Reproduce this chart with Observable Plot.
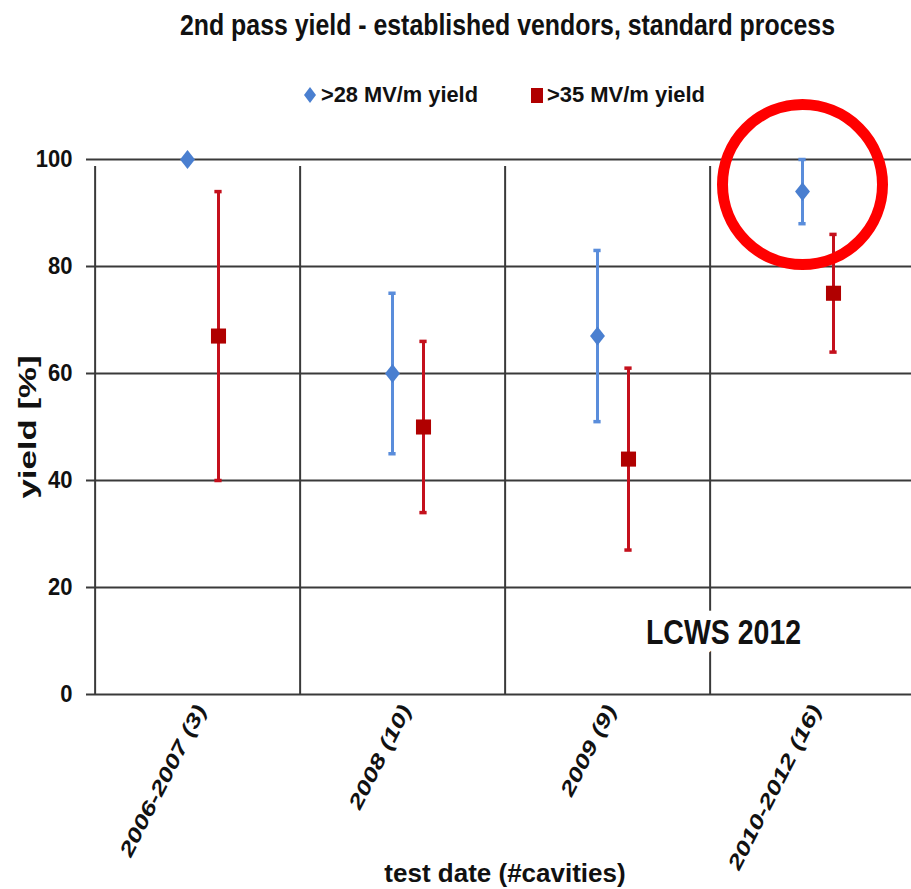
<!DOCTYPE html>
<html>
<head>
<meta charset="utf-8">
<script src="https://cdn.jsdelivr.net/npm/d3@7"></script>
<script src="https://cdn.jsdelivr.net/npm/@observablehq/plot@0.6"></script>
<style>
  html, body { margin: 0; padding: 0; background: #fff; }
  #wrap { position: relative; width: 911px; height: 889px; overflow: hidden; background: #fff;
          font-family: 'Liberation Sans', Arial, sans-serif; color: #111; }
  .fit { position: absolute; white-space: nowrap; font-weight: bold; transform-origin: 0 0; }
  #title { font-size: 29px; top: 9px; }
  .lgtext { font-size: 22px; top: 82px; }
  .lgsym { position: absolute; }
  #chart { position: absolute; left: 0; top: 120px; }
</style>
</head>
<body>
<div id="wrap">
  <div id="title" class="fit">2nd pass yield - established vendors, standard process</div>
  <div id="chart"></div>
</div>
<script>
// ---- data ----
const categories = ["2006-2007 (3)", "2008 (10)", "2009 (9)", "2010-2012 (16)"];
const yield28    = [100, 60, 67, 94];
const yield28Lo  = [100, 45, 51, 88];
const yield28Hi  = [100, 75, 83, 100];
const yield35    = [67, 50, 44, 75];
const yield35Lo  = [40, 34, 27, 64];
const yield35Hi  = [94, 66, 61, 86];
const yTicks     = [0, 20, 40, 60, 80, 100];
const seriesNames = [">28 MV/m yield", ">35 MV/m yield"];
const highlightIndex = 3; // circled point: >28 MV/m, 2010-2012

// ---- styles ----
const FONT = "'Liberation Sans', Arial, sans-serif";
const BLUE = "#4a7fd0", BLUE_LINE = "#5a8ddb";
const RED = "#b00000", RED_LINE = "#c4101c";
const GRID = "#3a3a3a";

const W = 911, H = 769, ML = 93, MR = -5, MT = 39, MB = 195;
const bw = (W - ML - MR) / categories.length;
const off28 = -10.5, off35 = 20.5, capW = 8;

const wideDiamond = {
  draw(ctx, size) {
    const k = 0.79, h = Math.sqrt(size / (2 * k)), w = k * h;
    ctx.moveTo(0, -h); ctx.lineTo(w, 0); ctx.lineTo(0, h); ctx.lineTo(-w, 0); ctx.closePath();
  }
};

const d28 = categories.map((c, i) => ({cat: c, v: yield28[i], lo: yield28Lo[i], hi: yield28Hi[i]}));
const d35 = categories.map((c, i) => ({cat: c, v: yield35[i], lo: yield35Lo[i], hi: yield35Hi[i]}));

const capOpts = (dx, color) => ({dx, stroke: color, strokeWidth: 3.5, insetLeft: bw/2 - capW/2, insetRight: bw/2 - capW/2});

const chart = Plot.plot({
  width: W, height: H,
  marginLeft: ML, marginRight: MR, marginTop: MT, marginBottom: MB,
  x: {domain: categories, padding: 0, axis: null},
  y: {domain: [0, 100], axis: null},
  style: {fontFamily: FONT, background: "transparent", overflow: "visible", color: "#111"},
  marks: [
    Plot.ruleY(yTicks, {y: d => d, stroke: GRID, strokeWidth: 2, insetLeft: -7}),
    Plot.ruleX(categories, {x: d => d, dx: -bw/2, y1: 0, y2: 100, stroke: GRID, strokeWidth: 2, insetBottom: -7}),
    Plot.axisY({ticks: yTicks, tickSize: 0, tickPadding: 21, fontSize: 22, fontWeight: "bold"}),
    Plot.axisX({tickSize: 0, tickPadding: 12, tickRotate: -63, dx: 3, fontSize: 20, fontWeight: "bold", fontStyle: "italic", label: null}),
    // error bars
    Plot.ruleX(d28, {x: "cat", y1: "lo", y2: "hi", dx: off28, stroke: BLUE_LINE, strokeWidth: 3}),
    Plot.tickY(d28, {x: "cat", y: "lo", ...capOpts(off28, BLUE_LINE)}),
    Plot.tickY(d28, {x: "cat", y: "hi", ...capOpts(off28, BLUE_LINE)}),
    Plot.ruleX(d35, {x: "cat", y1: "lo", y2: "hi", dx: off35, stroke: RED_LINE, strokeWidth: 3}),
    Plot.tickY(d35, {x: "cat", y: "lo", ...capOpts(off35, RED_LINE)}),
    Plot.tickY(d35, {x: "cat", y: "hi", ...capOpts(off35, RED_LINE)}),
    // markers
    Plot.dot(d28, {x: "cat", y: "v", dx: off28, symbol: wideDiamond, r: 6.7, fill: BLUE}),
    Plot.dot(d35, {x: "cat", y: "v", dx: off35, symbol: "square", r: 8.5, fill: RED}),
    // highlight circle
    Plot.dot([d28[highlightIndex]], {x: "cat", y: "v", dx: off28, dy: -7, r: 80, fill: "none", stroke: "#ff0000", strokeWidth: 11}),
    // annotation
    Plot.text(["LCWS 2012"], {frameAnchor: "bottom-right", dx: -193, dy: -62, fontSize: 30, fontWeight: "bold",
      fill: "#111", stroke: "white", strokeWidth: 16, paintOrder: "stroke", textAnchor: "middle", lineAnchor: "middle"}),
    // axis titles
    Plot.text(["yield [%]"], {frameAnchor: "left", dx: -65, rotate: -90, fontSize: 24, fontWeight: "bold", fill: "#111", textAnchor: "middle", lineAnchor: "middle"}),
    Plot.text(["test date (#cavities)"], {frameAnchor: "bottom", dx: 0, dy: 179, fontSize: 26, fontWeight: "bold", fill: "#111", textAnchor: "middle", lineAnchor: "middle"})
  ]
});
document.getElementById("chart").appendChild(chart);

// stretch texts to mimic the reference's proportions
function appendScale(el, sx, sy) {
  el.setAttribute("transform", (el.getAttribute("transform") || "") + ` scale(${sx},${sy})`);
}
d3.select(chart).selectAll('g[aria-label="x-axis tick label"] text').each(function() { appendScale(this, 1.33, 1); });
d3.select(chart).selectAll('g[aria-label="y-axis tick label"] text').each(function() { appendScale(this, 1, 1.12); });
d3.select(chart).selectAll("text").each(function() {
  if (this.textContent === "yield [%]") appendScale(this, 1.45, 1);
  if (this.textContent === "LCWS 2012") appendScale(this, 0.95, 1.15);
});

// HTML title & legend, fitted to widths
const wrap = document.getElementById("wrap");
function fit(el, left, width) {
  const w = el.getBoundingClientRect().width;
  el.style.left = left + "px";
  el.style.transform = `scaleX(${width / w})`;
}
fit(document.getElementById("title"), 180, 655);

const legendItems = [
  {name: seriesNames[0], textLeft: 321, textW: 157,
   sym: `<svg class="lgsym" style="left:304px;top:87px" width="12" height="16"><path d="M6,0L12,8L6,16L0,8Z" fill="${BLUE}"/></svg>`},
  {name: seriesNames[1], textLeft: 547, textW: 158,
   sym: `<svg class="lgsym" style="left:531px;top:88px" width="12" height="15"><rect x="0" y="0" width="12" height="15" fill="${RED}"/></svg>`}
];
for (const it of legendItems) {
  wrap.insertAdjacentHTML("beforeend", it.sym);
  const t = document.createElement("div");
  t.className = "fit lgtext";
  t.textContent = it.name;
  wrap.appendChild(t);
  fit(t, it.textLeft, it.textW);
}
</script>
</body>
</html>
